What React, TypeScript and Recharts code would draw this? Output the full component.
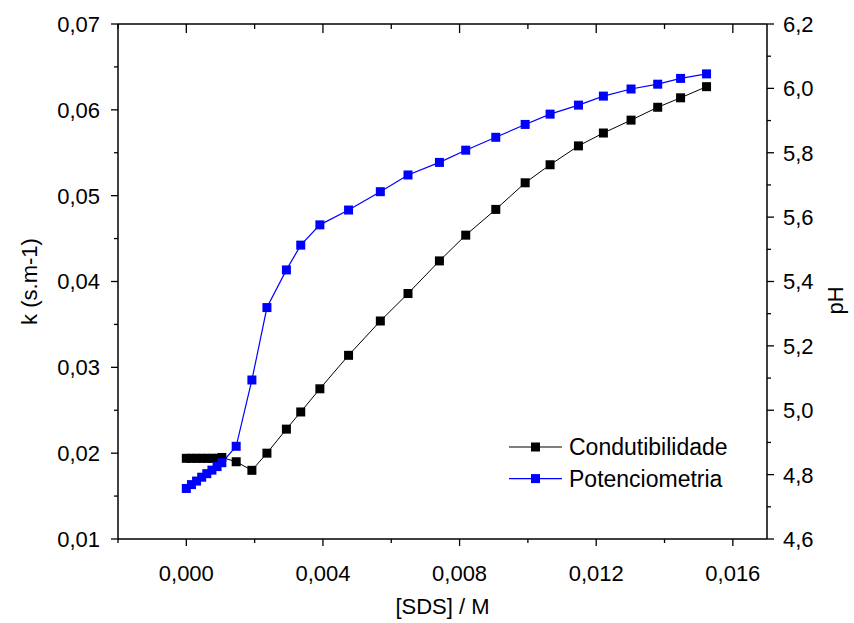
import { Label, Line, LineChart, XAxis, YAxis } from "recharts";

// [SDS] / M, shared by both series
const sds = [
  0, 0.00015, 0.0003, 0.00045, 0.0006, 0.00075, 0.0009, 0.00104, 0.00146, 0.00192, 0.00236, 0.00293, 0.00335,
  0.00391, 0.00475, 0.00568, 0.00649, 0.00741, 0.00818, 0.00906, 0.00992, 0.01065, 0.01148, 0.01221, 0.01302,
  0.0138, 0.01447, 0.01523,
];
// k (s.m-1)
const conductivity = [
  0.0194, 0.0194, 0.0194, 0.0194, 0.0194, 0.0194, 0.0194, 0.0195, 0.019, 0.018, 0.02, 0.0228, 0.0248, 0.0275,
  0.0314, 0.0354, 0.0386, 0.0424, 0.0454, 0.0484, 0.0515, 0.0536, 0.0558, 0.0573, 0.0588, 0.0603, 0.0614, 0.0627,
];
// pH
const ph = [
  4.757, 4.769, 4.78, 4.792, 4.803, 4.814, 4.825, 4.837, 4.888, 5.094, 5.319, 5.436, 5.513, 5.576, 5.622, 5.679,
  5.731, 5.77, 5.808, 5.848, 5.888, 5.92, 5.948, 5.976, 5.998, 6.013, 6.031, 6.045,
];

const seriesNames = ["Condutibilidade", "Potenciometria"];
const seriesColors = ["#000000", "#0000ff"];

const xMajorTicks = [0, 0.004, 0.008, 0.012, 0.016];
const xMinorTicks = [-0.002, 0.002, 0.006, 0.01, 0.014];
const kMajorTicks = [0.01, 0.02, 0.03, 0.04, 0.05, 0.06, 0.07];
const kMinorTicks = [0.015, 0.025, 0.035, 0.045, 0.055, 0.065];
const phMajorTicks = [4.6, 4.8, 5.0, 5.2, 5.4, 5.6, 5.8, 6.0, 6.2];
const phMinorTicks = [4.7, 4.9, 5.1, 5.3, 5.5, 5.7, 5.9, 6.1];

const data = sds.map((x, i) => ({ x, k: conductivity[i], ph: ph[i] }));

const FONT = "'Liberation Sans', Arial, Helvetica, sans-serif";
const TICK_FONT = 22;
const MAJOR = 7;
const MINOR = 4;

const sorted = (a: number[], b: number[]) => [...a, ...b].sort((p, q) => p - q);
const comma = (v: number, digits: number) => v.toFixed(digits).replace(".", ",");

function BottomTick({ x, y, payload }: any) {
  const major = xMajorTicks.includes(payload.value);
  return (
    <g>
      <line x1={x} x2={x} y1={y} y2={y + (major ? MAJOR : MINOR)} stroke="#000" strokeWidth={1.3} />
      {major && (
        <text x={x} y={y + 42} textAnchor="middle" fontSize={TICK_FONT} fontFamily={FONT} fill="#000">
          {comma(payload.value, 3)}
        </text>
      )}
    </g>
  );
}

function TopTick({ x, y, payload }: any) {
  const major = xMajorTicks.includes(payload.value);
  return <line x1={x} x2={x} y1={y} y2={y + (major ? 9 : 5)} stroke="#000" strokeWidth={1.3} />;
}

function LeftTick({ x, y, payload }: any) {
  const major = kMajorTicks.includes(payload.value);
  return (
    <g>
      <line x1={x - (major ? MAJOR : MINOR)} x2={x} y1={y} y2={y} stroke="#000" strokeWidth={1.3} />
      {major && (
        <text x={x - 18} y={y} dy="0.36em" textAnchor="end" fontSize={TICK_FONT} fontFamily={FONT} fill="#000">
          {comma(payload.value, 2)}
        </text>
      )}
    </g>
  );
}

function RightTick({ x, y, payload }: any) {
  const major = phMajorTicks.includes(payload.value);
  return (
    <g>
      <line x1={x} x2={x + (major ? MAJOR : MINOR)} y1={y} y2={y} stroke="#000" strokeWidth={1.3} />
      {major && (
        <text x={x + 16} y={y} dy="0.36em" textAnchor="start" fontSize={TICK_FONT} fontFamily={FONT} fill="#000">
          {comma(payload.value, 1)}
        </text>
      )}
    </g>
  );
}

function squareDot(color: string) {
  return (p: any) => {
    if (p.cx == null || p.cy == null) return <g key={`d-${p.index}`} />;
    return <rect key={`d-${color}-${p.index}`} x={p.cx - 4.5} y={p.cy - 4.5} width={9} height={9} fill={color} />;
  };
}

function PhTitle({ viewBox }: any) {
  const cx = viewBox.x + viewBox.width + 8;
  const cy = viewBox.y + viewBox.height / 2 + 19;
  return (
    <text
      x={cx}
      y={cy}
      transform={`rotate(-90 ${cx} ${cy})`}
      textAnchor="middle"
      dominantBaseline="central"
      fontSize={TICK_FONT}
      fontFamily={FONT}
      fill="#000"
    >
      pH
    </text>
  );
}

function KTitle({ viewBox }: any) {
  const cx = viewBox.x - 9;
  const cy = viewBox.y + viewBox.height / 2;
  return (
    <text
      x={cx}
      y={cy}
      transform={`rotate(-90 ${cx} ${cy})`}
      textAnchor="middle"
      dominantBaseline="central"
      fontSize={TICK_FONT}
      fontFamily={FONT}
      fill="#000"
    >
      k (s.m-1)
    </text>
  );
}

function XTitle({ viewBox }: any) {
  return (
    <text
      x={viewBox.x + viewBox.width / 2}
      y={viewBox.y + viewBox.height + 35}
      textAnchor="middle"
      fontSize={TICK_FONT}
      fontFamily={FONT}
      fill="#000"
    >
      [SDS] / M
    </text>
  );
}

function LegendBox() {
  return (
    <svg width={240} height={70} style={{ position: "absolute", left: 500, top: 430 }}>
      {seriesNames.map((name, i) => {
        const y = 17 + i * 31.6;
        return (
          <g key={name}>
            <line x1={9} x2={62} y1={y} y2={y} stroke={seriesColors[i]} strokeWidth={1.2} />
            <rect x={31} y={y - 4.5} width={9} height={9} fill={seriesColors[i]} />
            <text x={69} y={y} dy="0.36em" fontSize={23} fontFamily={FONT} fill="#000">
              {name}
            </text>
          </g>
        );
      })}
    </svg>
  );
}

export default function App() {
  return (
    <div style={{ position: "absolute", left: 0, top: 0, width: 854, height: 623, background: "#fff" }}>
      <LineChart width={854} height={623} data={data} margin={{ top: 24, right: 27, bottom: 44, left: 38 }}>
        <XAxis
          xAxisId="bottom"
          type="number"
          dataKey="x"
          domain={[-0.002, 0.017]}
          ticks={sorted(xMajorTicks, xMinorTicks)}
          interval={0}
          allowDataOverflow
          height={40}
          tickSize={0}
          tickMargin={0}
          tickLine={false}
          axisLine={{ stroke: "#000", strokeWidth: 1.5 }}
          tick={<BottomTick />}
        >
          <Label content={<XTitle />} />
        </XAxis>
        <XAxis
          xAxisId="top"
          orientation="top"
          mirror
          type="number"
          dataKey="x"
          domain={[-0.002, 0.017]}
          ticks={sorted(xMajorTicks, xMinorTicks)}
          interval={0}
          allowDataOverflow
          tickSize={0}
          tickMargin={0}
          tickLine={false}
          axisLine={{ stroke: "#000", strokeWidth: 1.5 }}
          tick={<TopTick />}
        />
        <YAxis
          yAxisId="k"
          type="number"
          domain={[0.01, 0.07]}
          ticks={sorted(kMajorTicks, kMinorTicks)}
          interval={0}
          allowDataOverflow
          width={80}
          tickSize={0}
          tickMargin={0}
          tickLine={false}
          axisLine={{ stroke: "#000", strokeWidth: 1.5 }}
          tick={<LeftTick />}
        >
          <Label content={<KTitle />} />
        </YAxis>
        <YAxis
          yAxisId="ph"
          orientation="right"
          type="number"
          domain={[4.6, 6.2]}
          ticks={sorted(phMajorTicks, phMinorTicks)}
          interval={0}
          allowDataOverflow
          width={60}
          tickSize={0}
          tickMargin={0}
          tickLine={false}
          axisLine={{ stroke: "#000", strokeWidth: 1.5 }}
          tick={<RightTick />}
        >
          <Label content={<PhTitle />} />
        </YAxis>
        <Line
          xAxisId="bottom"
          yAxisId="k"
          dataKey="k"
          name={seriesNames[0]}
          stroke={seriesColors[0]}
          strokeWidth={1}
          dot={squareDot(seriesColors[0])}
          activeDot={false}
          isAnimationActive={false}
        />
        <Line
          xAxisId="bottom"
          yAxisId="ph"
          dataKey="ph"
          name={seriesNames[1]}
          stroke={seriesColors[1]}
          strokeWidth={1.2}
          dot={squareDot(seriesColors[1])}
          activeDot={false}
          isAnimationActive={false}
        />
      </LineChart>
      <LegendBox />
    </div>
  );
}
